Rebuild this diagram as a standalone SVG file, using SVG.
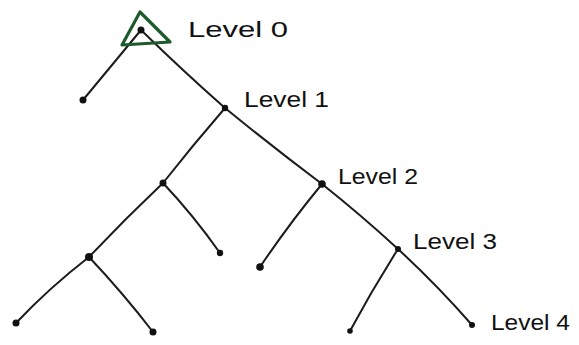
<svg xmlns="http://www.w3.org/2000/svg" width="579" height="345" viewBox="0 0 579 345">
  <style>
    .edge { fill: none; stroke: #1c1c1c; stroke-width: 2; stroke-linecap: round; }
    .dot { fill: #111; }
    .lbl { font-family: "Liberation Sans", "DejaVu Sans", sans-serif; font-size: 22px; fill: #111; }
    .root-mark { fill: none; stroke: #1d5a2c; stroke-width: 3.2; stroke-linejoin: round; }
  </style>

  <rect width="579" height="345" fill="#ffffff"/>

  <!-- branches: almost straight strokes -->
  <g id="connectors">
    <path class="edge" d="M141 30 Q111 66 83 100"/>
    <path class="edge" d="M141 30 Q183 71 225 108"/>
    <path class="edge" d="M225 108 Q193 145 163 183"/>
    <path class="edge" d="M225 108 Q274 148 322 184"/>
    <path class="edge" d="M163 183 Q125 219 89 257"/>
    <path class="edge" d="M163 183 Q194 216 220 253"/>
    <path class="edge" d="M89 257 Q49 288 16 323"/>
    <path class="edge" d="M89 257 Q123 293 153 332"/>
    <path class="edge" d="M322 184 Q289 224 260 267"/>
    <path class="edge" d="M322 184 Q361 215 398 249"/>
    <path class="edge" d="M398 249 Q372 290 350 331"/>
    <path class="edge" d="M398 249 Q437 285 472 325"/>
  </g>

  <g id="root">
    <path class="root-mark" d="M140 12 L170 42 L122 45 Z"/>
    <circle class="dot" cx="141" cy="30" r="3.5"/>
    <text class="lbl" x="188" y="37" textLength="100" lengthAdjust="spacingAndGlyphs">Level 0</text>
  </g>
  <g id="leaf-a"><circle class="dot" cx="83" cy="100" r="3.5"/></g>
  <g id="level1">
    <circle class="dot" cx="225" cy="108" r="3.2"/>
    <text class="lbl" x="244" y="107" textLength="85" lengthAdjust="spacingAndGlyphs">Level 1</text>
  </g>
  <g id="node-b"><circle class="dot" cx="163" cy="183" r="3.5"/></g>
  <g id="level2">
    <circle class="dot" cx="322" cy="184" r="3.8"/>
    <text class="lbl" x="338" y="184" textLength="80" lengthAdjust="spacingAndGlyphs">Level 2</text>
  </g>
  <g id="leaf-b"><circle class="dot" cx="220" cy="253" r="3.2"/></g>
  <g id="node-c"><circle class="dot" cx="89" cy="257" r="4"/></g>
  <g id="leaf-c"><circle class="dot" cx="16" cy="323" r="3.5"/></g>
  <g id="leaf-d"><circle class="dot" cx="153" cy="332" r="3.5"/></g>
  <g id="leaf-e"><circle class="dot" cx="260" cy="267" r="3.8"/></g>
  <g id="level3">
    <circle class="dot" cx="398" cy="249" r="3"/>
    <text class="lbl" x="413" y="249" textLength="84" lengthAdjust="spacingAndGlyphs">Level 3</text>
  </g>
  <g id="leaf-f"><circle class="dot" cx="350" cy="331" r="2.8"/></g>
  <g id="level4">
    <circle class="dot" cx="472" cy="325" r="3"/>
    <text class="lbl" x="491" y="330" textLength="79" lengthAdjust="spacingAndGlyphs">Level 4</text>
  </g>
</svg>
